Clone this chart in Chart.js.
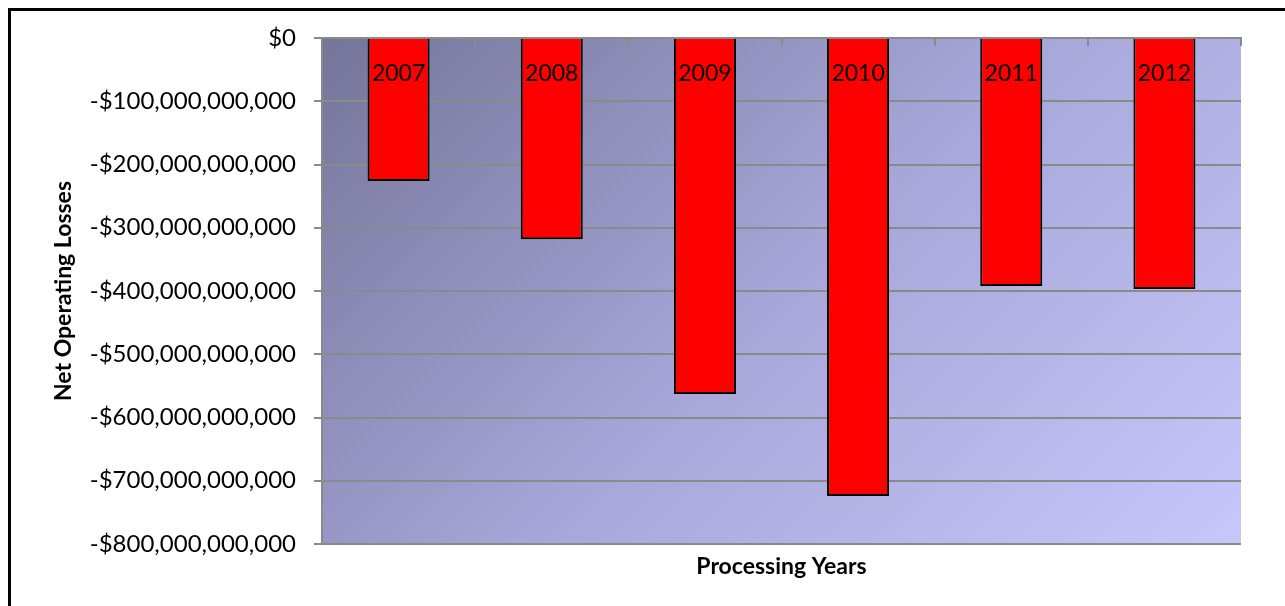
<!DOCTYPE html>
<html>
<head>
<meta charset="utf-8">
<title>Net Operating Losses by Processing Year</title>
<script src="https://cdn.jsdelivr.net/npm/chart.js@4.4.1/dist/chart.umd.min.js"></script>
<style>
  html, body { margin: 0; padding: 0; background: #ffffff; overflow: hidden; }
  #wrap { position: relative; width: 1285px; height: 606px; }
  #frame { position: absolute; left: 8px; top: 8px; width: 1300px; height: 620px;
           border: 3px solid #000; box-sizing: border-box; pointer-events: none; }
</style>
</head>
<body>
<div id="wrap">
  <canvas id="chart" width="1285" height="606"></canvas>
  <div id="frame"></div>
</div>
<script>
// Processing years and their net operating losses (US dollars)
const categories = ['2007', '2008', '2009', '2010', '2011', '2012'];
const losses = [-226e9, -318e9, -563e9, -724e9, -392e9, -397e9];

// Value axis range
const axisMin = -800e9;
const axisMax = 0;
const axisStep = 100e9;

const yTitle = 'Net Operating Losses';
const xTitle = 'Processing Years';

const FONT = 'Lato, "Open Sans", "DejaVu Sans", sans-serif';

function money(v) {
  const s = Math.abs(v).toLocaleString('en-US');
  return (v < 0 ? '-$' : '$') + s;
}

// 45-degree shaded fill behind the plot area
const plotBackground = {
  id: 'plotBackground',
  beforeDraw(chart) {
    const { ctx, chartArea: a } = chart;
    const w = a.right - a.left, h = a.bottom - a.top;
    const d = (w + h) / 2;
    const g = ctx.createLinearGradient(a.left, a.top, a.left + d, a.top + d);
    g.addColorStop(0, '#75759a');
    g.addColorStop(0.5, '#a6a6d8');
    g.addColorStop(1, '#c7c7fb');
    ctx.save();
    ctx.fillStyle = g;
    ctx.fillRect(a.left, a.top, w, h);
    ctx.restore();
  }
};

// Short category separators hanging from the zero line
const categoryTicks = {
  id: 'categoryTicks',
  afterDraw(chart) {
    const { ctx, chartArea: a } = chart;
    const n = categories.length;
    const w = (a.right - a.left) / n;
    ctx.save();
    ctx.strokeStyle = '#8a8a8a';
    ctx.lineWidth = 2;
    for (let i = 0; i <= n; i++) {
      const x = Math.round(a.left + i * w);
      ctx.beginPath();
      ctx.moveTo(x, a.top);
      ctx.lineTo(x, a.top + 8);
      ctx.stroke();
    }
    ctx.restore();
  }
};

// Year label inside the top of each bar
const barLabels = {
  id: 'barLabels',
  afterDatasetsDraw(chart) {
    const { ctx } = chart;
    const meta = chart.getDatasetMeta(0);
    ctx.save();
    ctx.font = '23px ' + FONT;
    ctx.fillStyle = '#000';
    ctx.textAlign = 'center';
    ctx.textBaseline = 'middle';
    meta.data.forEach((bar, i) => {
      ctx.fillText(categories[i], bar.x, bar.base + 35);
    });
    ctx.restore();
  }
};

new Chart(document.getElementById('chart'), {
  type: 'bar',
  data: {
    labels: categories,
    datasets: [{
      data: losses,
      backgroundColor: '#ff0000',
      borderColor: '#000000',
      borderWidth: 2,
      categoryPercentage: 1,
      barPercentage: 0.405,
      xAxisID: 'x',
      yAxisID: 'y'
    }]
  },
  options: {
    responsive: false,
    devicePixelRatio: 1,
    animation: false,
    layout: { padding: { left: 0, top: 0, right: 44, bottom: 0 } },
    plugins: {
      legend: { display: false },
      tooltip: { enabled: false }
    },
    scales: {
      x: {
        type: 'category',
        position: 'top',
        offset: true,
        ticks: { display: false },
        grid: { display: false },
        border: { display: true, color: '#8a8a8a', width: 2 },
        afterFit(s) { s.height = 38; }
      },
      x2: {
        type: 'category',
        position: 'bottom',
        labels: categories,
        ticks: { display: false },
        grid: { display: false },
        border: { display: false },
        title: {
          display: true,
          text: xTitle,
          color: '#000',
          font: { family: FONT, size: 23, weight: 'bold' },
          padding: { top: 0, bottom: 26 }
        },
        afterFit(s) { s.height = 62; }
      },
      y: {
        min: axisMin,
        max: axisMax,
        ticks: {
          stepSize: axisStep,
          color: '#000',
          padding: 18,
          font: { family: FONT, size: 24 },
          callback: (v) => money(v)
        },
        grid: {
          color: '#8a8a8a',
          lineWidth: 2,
          tickLength: 8,
          drawTicks: true
        },
        border: { display: true, color: '#8a8a8a', width: 2 },
        title: {
          display: true,
          text: yTitle,
          color: '#000',
          font: { family: FONT, size: 23, weight: 'bold' },
          padding: { top: 50, bottom: 0 }
        },
        afterFit(s) { s.width = 322; }
      }
    }
  },
  plugins: [plotBackground, categoryTicks, barLabels]
});
</script>
</body>
</html>
